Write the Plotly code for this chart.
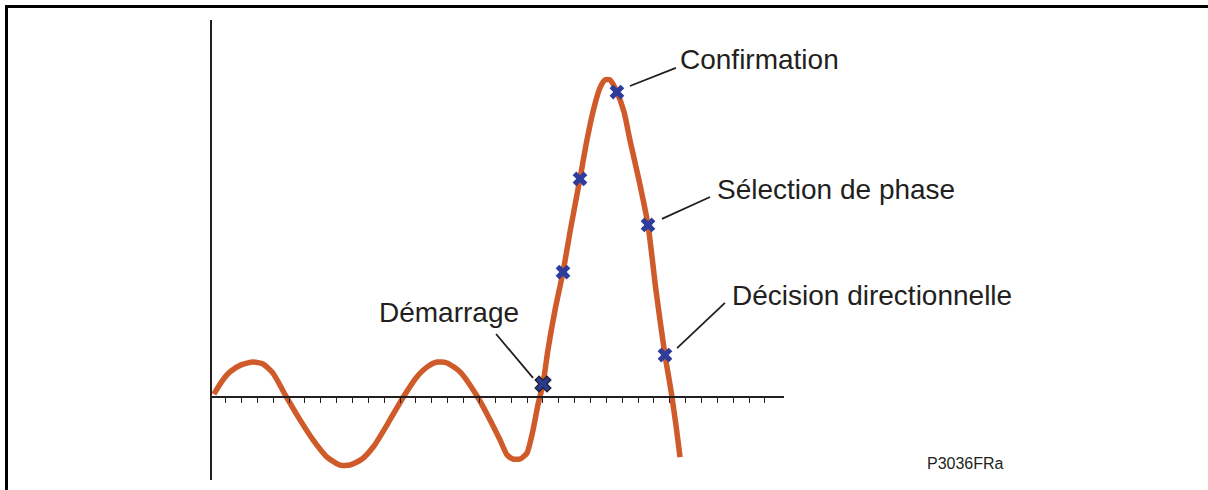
import plotly.graph_objects as go

# Signal trace (time in sample intervals, amplitude in per-unit of the fault peak)
t = [0.26, 0.77, 1.27, 1.97, 2.72, 3.35, 3.98, 4.80, 5.69, 6.51, 7.39, 8.21, 8.84,
     9.60, 10.35, 11.24, 12.24, 13.00, 13.69, 14.33, 14.96, 15.78, 16.85, 17.67,
     18.30, 18.74, 19.12, 19.56, 20.00, 20.38, 20.69, 21.01, 21.32, 21.77, 22.27,
     22.77, 23.34, 23.78, 24.22, 24.60, 24.92, 25.23, 25.67, 26.12, 26.49, 27.06,
     27.63, 28.13, 28.70, 29.02, 29.14, 29.39, 29.65]
amp = [0.009, 0.050, 0.079, 0.101, 0.110, 0.104, 0.075, 0.003, -0.072, -0.135,
       -0.189, -0.214, -0.214, -0.195, -0.154, -0.082, 0.003, 0.060, 0.094, 0.110,
       0.107, 0.079, 0.003, -0.072, -0.135, -0.182, -0.195, -0.195, -0.176, -0.104,
       -0.025, 0.041, 0.148, 0.274, 0.393, 0.535, 0.686, 0.808, 0.909, 0.972, 0.997,
       0.997, 0.959, 0.896, 0.808, 0.682, 0.541, 0.336, 0.132, 0.038, 0.0, -0.088,
       -0.189]

# Algorithm sample points
start_t, start_amp = [21.01], [0.041]
sample_t = [22.27, 23.34, 25.67, 27.63, 28.70]
sample_amp = [0.393, 0.686, 0.959, 0.541, 0.132]

# Time axis ticks (one per sample interval)
ticks = list(range(0, 36))

# Labels: text, label anchor (t, amp), leader line (t0, a0, t1, a1)
labels = ["Confirmation", "Sélection de phase", "Décision directionnelle", "Démarrage"]
label_t = [29.50, 31.83, 32.82, 10.56]
label_amp = [1.060, 0.651, 0.318, 0.267]
leader_t0 = [26.49, 28.51, 29.46, 18.05]
leader_a0 = [0.978, 0.560, 0.154, 0.198]
leader_t1 = [29.39, 31.54, 32.48, 20.38]
leader_a1 = [1.035, 0.629, 0.296, 0.060]

W, H = 1208, 490
ORANGE = "#CF5A2A"
BLUE = "#2E3C9B"
INK = "#231F20"
FONT = "Liberation Sans, Arial, sans-serif"

fig = go.Figure()
fig.add_trace(go.Scatter(
    x=t, y=amp, mode="lines",
    line=dict(color=ORANGE, width=5.5, shape="spline", smoothing=0.6),
    hoverinfo="skip", showlegend=False))
fig.add_trace(go.Scatter(
    x=sample_t, y=sample_amp, mode="markers",
    marker=dict(symbol="x", size=13, color=BLUE, line=dict(width=0)),
    showlegend=False))
fig.add_trace(go.Scatter(
    x=start_t, y=start_amp, mode="markers",
    marker=dict(symbol="x", size=14, color="#2A3A8E", line=dict(width=1.2, color=INK)),
    showlegend=False))

shapes = []
for x0, y0, x1, y1 in zip(leader_t0, leader_a0, leader_t1, leader_a1):
    shapes.append(dict(type="line", xref="x", yref="y", x0=x0, y0=y0, x1=x1, y1=y1,
                       line=dict(color=INK, width=1.8)))
# Outer frame (top and left edges)
shapes.append(dict(type="line", xref="paper", yref="paper",
                   x0=5 / W, x1=1.0, y0=1 - 6.5 / H, y1=1 - 6.5 / H,
                   line=dict(color="black", width=3)))
shapes.append(dict(type="line", xref="paper", yref="paper",
                   x0=6.5 / W, x1=6.5 / W, y0=0, y1=1 - 5 / H,
                   line=dict(color="black", width=3)))

annotations = []
for txt, xa, ya in zip(labels, label_t, label_amp):
    annotations.append(dict(text=txt, x=xa, y=ya, xref="x", yref="y",
                            xanchor="left", yanchor="middle", showarrow=False,
                            font=dict(family=FONT, size=28, color=INK)))
annotations.append(dict(text="P3036FRa", x=925 / W, y=1 - 463 / H, xref="paper", yref="paper",
                        xanchor="left", yanchor="middle", showarrow=False,
                        font=dict(family=FONT, size=16, color=INK)))

x0px, sx = 209.8, 15.86
y0px, sy = 397.0, 318.0
fig.update_layout(
    width=W, height=H,
    margin=dict(l=0, r=0, t=0, b=0),
    paper_bgcolor="white", plot_bgcolor="white",
    xaxis=dict(domain=[212 / W, 784 / W],
               range=[(212 - x0px) / sx, (784 - x0px) / sx],
               anchor="free", position=1 - y0px / H,
               showline=True, linecolor=INK, linewidth=1.5,
               ticks="outside", tickvals=ticks, ticklen=5, tickwidth=1.2, tickcolor=INK,
               showticklabels=False, showgrid=False, zeroline=False, fixedrange=True),
    yaxis=dict(domain=[1 - 480 / H, 1 - 20 / H],
               range=[(y0px - 480) / sy, (y0px - 20) / sy],
               showline=True, linecolor=INK, linewidth=2,
               ticks="", showticklabels=False, showgrid=False, zeroline=False,
               fixedrange=True),
    shapes=shapes,
    annotations=annotations,
)

fig.write_html("out.html")
